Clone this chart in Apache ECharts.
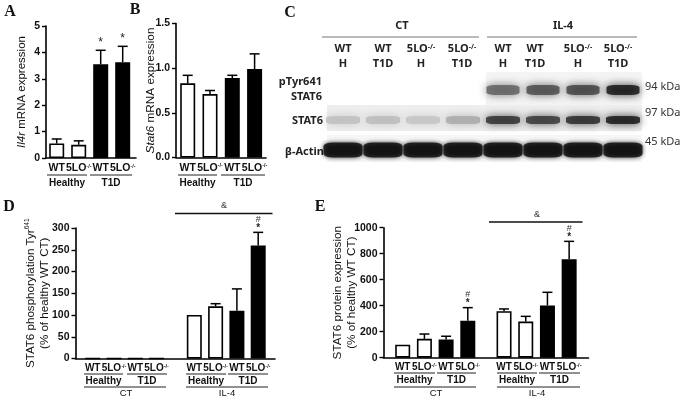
<!DOCTYPE html>
<html><head><meta charset="utf-8">
<style>html,body{margin:0;padding:0;background:#fff}#c{width:685px;height:400px}</style>
<script src="https://cdn.jsdelivr.net/npm/echarts@6/dist/echarts.min.js"></script>
</head><body><div id="c"></div>
<script>
// ---- data ----
const genotypeLabels = ['WT','5LO{s|-/-}','WT','5LO{s|-/-}'];
const a_values = [0.55,0.50,3.55,3.63];
const a_errTop = [0.72,0.65,4.08,4.23];
const a_marks  = ['','','*','*'];
const b_values = [0.83,0.71,0.89,0.99];
const b_errTop = [0.92,0.75,0.92,1.16];
const b_marks  = ['','','',''];
const d_values = [0,0,0,0,100,120,110,260];
const d_errTop = [0,0,0,0,100,126,160,290];
const d_marks  = ['','','','','','','','#*'];
const e_values = [100,145,140,285,358,278,402,757];
const e_errTop = [100,182,165,385,375,318,503,895];
const e_marks  = ['','','','#*','','','','#*'];
const blotLanes = ['WT H','WT T1D','5LO H','5LO T1D','IL4 WT H','IL4 WT T1D','IL4 5LO H','IL4 5LO T1D'];
const blotRows = ['pTyr641 STAT6','STAT6','β-Actin'];
const blotPTyr  = [0,0,0,0,0.62,0.72,0.76,0.97];
const blotStat6 = [0.18,0.2,0.16,0.28,0.85,0.82,0.88,0.97];
const blotActin = [1,1,1,1,1,1,1,1];

// ---- layout ----
const FONT='"Liberation Sans",Arial,sans-serif', BLOT='"Noto Sans",sans-serif', SERIF='"Liberation Serif",serif';
const grids=[],xAxes=[],yAxes=[],series=[],graphic=[];
const sup={s:{fontSize:5.5,fontWeight:'bold',verticalAlign:'top',lineHeight:7,padding:[0,0,5,0],fontFamily:FONT,color:'#111'}};

function panel(o){
  const k=grids.length;
  const n=o.values.length;
  // 8-bar panels leave a gap between the CT and IL-4 groups
  const xs=o.values.map((_,i)=> i<4||n<=4 ? i : i+o.groupGap);
  const xMin=-(o.first-o.left)/o.pitch, xMax=xMin+o.width/o.pitch;
  grids.push({left:o.left,top:o.top,width:o.width,height:o.height});
  xAxes.push({gridIndex:k,type:'value',min:xMin,max:xMax,splitLine:{show:false},
    axisLine:{show:true,onZero:false,lineStyle:{color:'#000',width:1.6}},
    axisTick:{show:false},
    axisLabel:{show:true,customValues:xs,margin:o.labelMargin||5,fontSize:o.xFont||10.5,fontWeight:'bold',fontFamily:FONT,color:'#111',
      hideOverlap:false,showMinLabel:true,showMaxLabel:true,rich:sup,
      formatter:v=>genotypeLabels[xs.indexOf(v)%4]}});
  yAxes.push({gridIndex:k,type:'value',min:0,max:o.max,interval:o.interval,splitLine:{show:false},
    name:o.title,nameLocation:'middle',nameGap:o.nameGap,nameRotate:90,nameMoveOverlap:false,
    nameTextStyle:{fontSize:o.titleFont||12,fontFamily:FONT,color:'#111',lineHeight:14,
      rich:{i:{fontStyle:'italic',fontSize:o.titleFont||12,fontFamily:FONT,color:'#111'},
            s:{fontSize:6.5,verticalAlign:'top',fontFamily:FONT,color:'#111',padding:[0,0,5,0]}}},
    axisLine:{show:true,onZero:false,lineStyle:{color:'#000',width:1.6}},
    axisTick:{show:true,length:4,lineStyle:{color:'#000',width:1.4}},
    axisLabel:{margin:6,fontSize:10.5,fontWeight:'bold',fontFamily:FONT,color:'#111',
      formatter:o.yFormat||(v=>v)}});
  series.push({type:'bar',xAxisIndex:k,yAxisIndex:k,barWidth:15,silent:true,
    data:o.values.map((v,i)=>({value:[xs[i],v],
      itemStyle:{color:i%4<2?'#fff':'#000',borderColor:'#000',borderWidth:1.6}}))});
  series.push({type:'custom',xAxisIndex:k,yAxisIndex:k,silent:true,clip:false,z:5,
    data:o.values.map((v,i)=>[xs[i],v,o.errTop[i]]),
    renderItem(params,api){
      const x=api.value(0),v=api.value(1),t=api.value(2);
      const a=api.coord([x,v]),b=api.coord([x,t]);
      const ch=[];
      const ls={stroke:'#000',lineWidth:1.5};
      if(t>v){
        ch.push({type:'line',shape:{x1:a[0],y1:a[1],x2:b[0],y2:b[1]},style:ls});
        ch.push({type:'line',shape:{x1:b[0]-5,y1:b[1],x2:b[0]+5,y2:b[1]},style:ls});
      }
      const m=o.marks[params.dataIndex];
      if(m==='*'){
        ch.push({type:'text',x:b[0],y:b[1]-8,style:{text:'*',fontSize:12,fontFamily:FONT,fill:'#222',align:'center',verticalAlign:'middle'}});
      } else if(m==='#*'){
        ch.push({type:'text',x:b[0],y:b[1]-4,style:{text:'*',fontSize:10,fontWeight:'bold',fontFamily:FONT,fill:'#222',align:'center',verticalAlign:'middle'}});
        ch.push({type:'text',x:b[0],y:b[1]-13,style:{text:'#',fontSize:9,fontFamily:FONT,fill:'#333',align:'center',verticalAlign:'middle'}});
      }
      return {type:'group',children:ch};
    }});
}

function line(x1,x2,y,w,c){graphic.push({type:'line',silent:true,shape:{x1,y1:y,x2,y2:y},style:{stroke:c||'#111',lineWidth:w||1}});}
function text(t,x,y,size,opt){
  opt=opt||{};
  graphic.push({type:'text',silent:true,x,y,style:Object.assign({text:t,fontSize:size,fontFamily:opt.family||FONT,fontWeight:opt.weight||'bold',
    fill:opt.fill||'#111',align:opt.align||'center',verticalAlign:'middle',textAlign:opt.align||'center',textVerticalAlign:'middle'},opt.rich?{rich:opt.rich}:{})});
}

panel({left:46,top:26,width:90,height:132,first:56.7,pitch:22,values:a_values,errTop:a_errTop,marks:a_marks,
  max:5,interval:1,title:'{i|Il4r} mRNA expression',nameGap:17,groupGap:0,titleFont:11.5});
panel({left:176,top:23.5,width:90,height:134,first:187.7,pitch:22.3,values:b_values,errTop:b_errTop,marks:b_marks,
  max:1.5,interval:0.5,title:'{i|Stat6} mRNA expression',nameGap:18,groupGap:0,titleFont:11.8,yFormat:v=>v.toFixed(1)});
panel({left:75.5,top:228,width:199.5,height:130.5,first:92.7,pitch:21.3,values:d_values,errTop:d_errTop,marks:d_marks,
  max:300,interval:50,title:'STAT6 phosphorylation Tyr{s|641}\n(% of healthy WT CT)',nameGap:24,groupGap:0.77,xFont:10,titleFont:11.6});
panel({left:383.5,top:227.7,width:205,height:130,first:402.7,pitch:21.7,values:e_values,errTop:e_errTop,marks:e_marks,
  max:1000,interval:200,title:'STAT6 protein expression\n(% of healthy WT CT)',nameGap:24.5,groupGap:0.67,xFont:10,titleFont:11.7});

// group brackets under the bars
function groupTag(x1,x2,y,label,ly,size){line(x1,x2,y,1,'#222');text(label,(x1+x2)/2,ly,size||10,{weight:'bold'});}
groupTag(47,87,175,'Healthy',183);groupTag(90,132,175,'T1D',183);
groupTag(178,217,175,'Healthy',183);groupTag(221,265,175,'T1D',183);
groupTag(84,123,374,'Healthy',381);groupTag(127,167,374,'T1D',381);
groupTag(186,226,374,'Healthy',381);groupTag(228,268,374,'T1D',381);
line(84,166,387,1,'#222');text('CT',126,393.5,9.5,{weight:'normal'});
line(186,268,387,1,'#222');text('IL-4',227,393.5,9.5,{weight:'normal'});
groupTag(394,435,373,'Healthy',380);groupTag(437,476,373,'T1D',380);
groupTag(497,537,373,'Healthy',380);groupTag(539,580,373,'T1D',380);
line(394,476,387,1,'#222');text('CT',436,393.5,9.5,{weight:'normal'});
line(497,580,387,1,'#222');text('IL-4',537,393.5,9.5,{weight:'normal'});
line(175,272.5,213.5,1.4,'#111');text('&',224,206,9,{weight:'normal',fill:'#333'});
line(489,582.5,222,1.4,'#111');text('&',537,215,9,{weight:'normal',fill:'#333'});

// panel letters
[['A',10,12],['B',135,10],['C',290,13],['D',9,207],['E',320,207]].forEach(p=>text(p[0],p[1],p[2],16,{family:SERIF}));

// blot annotation
const blotSup={s:{fontSize:7,fontFamily:BLOT,fontWeight:'bold',fill:'#222',color:'#222',verticalAlign:'top',padding:[0,0,5,0]}};
const bt=(t,x,y)=>text(t,x,y,11,{family:BLOT,fill:'#222',rich:blotSup});
line(322,479,37,1,'#777');line(487,637,37,1,'#777');
text('CT',402,26,11,{family:BLOT,fill:'#222'});text('IL-4',563,26,11,{family:BLOT,fill:'#222'});
[['WT','H',343],['WT','T1D',383],['5LO{s|-/-}','H',421],['5LO{s|-/-}','T1D',462],
 ['WT','H',503],['WT','T1D',535],['5LO{s|-/-}','H',578],['5LO{s|-/-}','T1D',618]].forEach(l=>{bt(l[0],l[2],49);bt(l[1],l[2],64);});
text('pTyr641',322,82,11,{family:BLOT,align:'right',fill:'#222'});
text('STAT6',322,97,11,{family:BLOT,align:'right',fill:'#222'});
text('STAT6',323,121,11,{family:BLOT,align:'right',fill:'#222'});
text('β-Actin',324,152,11,{family:BLOT,align:'right',fill:'#222'});
text('94 kDa',645,87,11,{family:BLOT,align:'left',weight:'normal',fill:'#333'});
text('97 kDa',645,113,11,{family:BLOT,align:'left',weight:'normal',fill:'#333'});
text('45 kDa',645,142,11,{family:BLOT,align:'left',weight:'normal',fill:'#333'});

// blot backgrounds
[[486,72,156,33,'#f4f4f4'],[327,105,315,26,'#eeeeee'],[327,135,315,27,'#f6f6f6']].forEach(r=>
  graphic.push({type:'rect',silent:true,z:-1,shape:{x:r[0],y:r[1],width:r[2],height:r[3]},style:{fill:r[4]}}));

// blot bands through their own grid
const gB=grids.length;
grids.push({left:323,top:75,width:320,height:90});
xAxes.push({gridIndex:gB,type:'category',data:blotLanes,show:false});
yAxes.push({gridIndex:gB,type:'category',data:blotRows,inverse:true,show:false});
const shade=v=>{const g=Math.round(230-(230-10)*v);return `rgb(${g},${g},${g})`;};
[[blotPTyr,0,[33,10],4],[blotStat6,1,[34,8],4],[blotActin,2,[39,15],2]].forEach(([vals,row,size,blur])=>{
  series.push({type:'scatter',xAxisIndex:gB,yAxisIndex:gB,symbol:'roundRect',symbolSize:size,silent:true,
    data:vals.map((v,i)=>v>0?{value:[i,row,v],itemStyle:{color:shade(v),shadowColor:shade(v),shadowBlur:blur*2}}:null).filter(Boolean)});
});

const chart=echarts.init(document.getElementById('c'),null,{renderer:'canvas'});
chart.setOption({animation:false,backgroundColor:'#fff',grid:grids,xAxis:xAxes,yAxis:yAxes,series,graphic:{elements:graphic}});
</script></body></html>
